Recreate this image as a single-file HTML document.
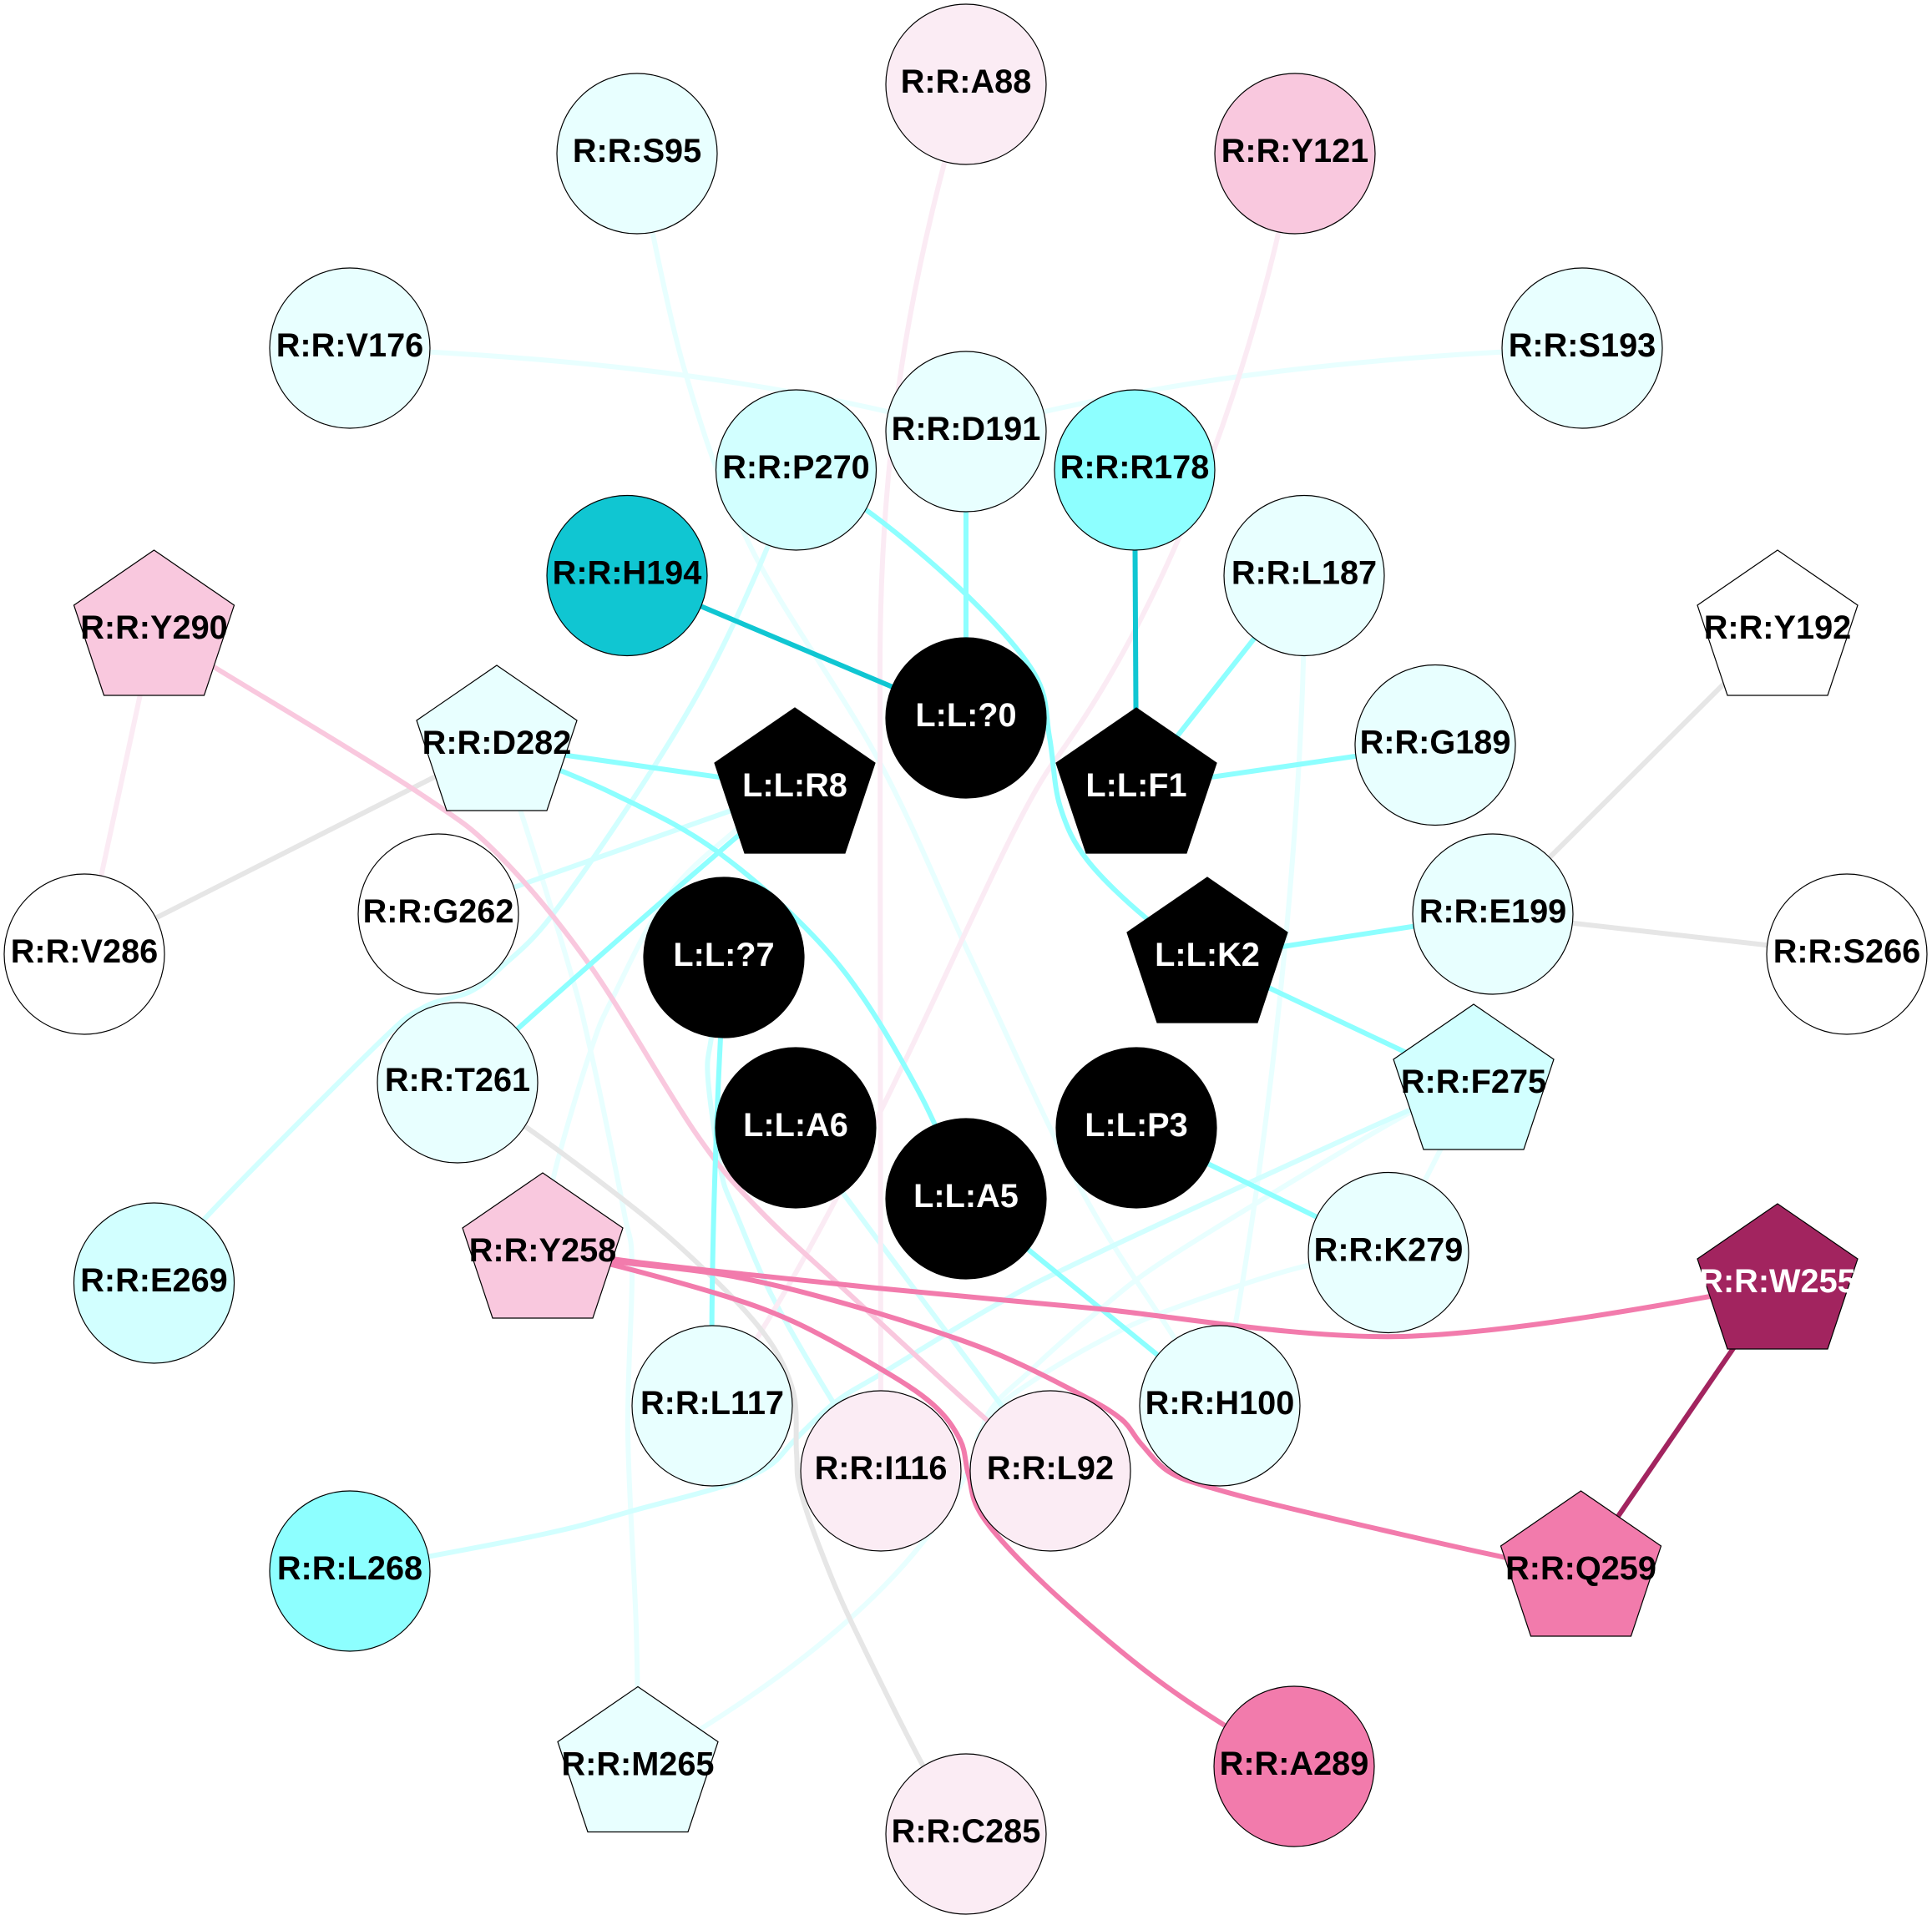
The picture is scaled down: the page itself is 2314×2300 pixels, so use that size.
<!DOCTYPE html>
<html><head><meta charset="utf-8"><title>Interaction network</title>
<style>
html,body{margin:0;padding:0;background:#fff}
svg{display:block}
text{font-family:"Liberation Sans",Arial,sans-serif;font-weight:bold;font-size:39.7px;text-anchor:middle;fill:#000}
text.w{fill:#fff}
.e path,.e line{fill:none;stroke-width:6}
.n circle,.n use{stroke:#000;stroke-width:1.2}
</style></head><body>
<svg xmlns="http://www.w3.org/2000/svg" width="2314" height="2300" viewBox="0 0 2314 2300">
<defs><polygon id="p" points="0,-96 96,-30 60,78 -60,78 -96,-30"/></defs>
<rect width="2314" height="2300" fill="#fff"/>
<g class="e">
<g stroke="#e8ffff">
<path d="M763 184C763 184 796 361 819 440S861 579 900 657S1008 828 1052 910S1123 1063 1164 1150S1256 1353 1297 1429S1381 1562 1408 1605S1461 1684 1461 1684"/>
<path d="M419 417C620 425 900 445 1157 517"/>
<path d="M1895 417C1694 425 1414 445 1157 517"/>
<path d="M595 893C595 893 608 925 623 970S669 1115 683 1163S696 1209 707 1257S739 1407 747 1450S756 1472.500 757 1517S751 1645 752 1717S760 1883.500 762 1950S764 2116 764 2116"/>
<path d="M952 944C952 944 908 971.500 883 993S825 1039 800 1073S748.500 1166 733 1197S719 1224.500 707 1260S672.500 1370 663 1410S650 1501 650 1501"/>
<path d="M1562 689C1565 950 1520 1400 1461 1684"/>
<path d="M1765 1299C1765 1299 1730 1311 1688 1333S1473 1460 1410 1500S1339.500 1551 1310 1575S1255 1622 1233 1643S1194 1673 1180 1700C1150 1840 1000 1970 841 2070L764 2116"/>
<path d="M1663 1500C1663 1500 1595 1508 1550 1520S1432 1557.500 1393 1572S1344 1593 1317 1607S1256 1641.500 1233 1657S1186 1686 1170 1725"/>
<line x1="1765" y1="1299" x2="1663" y2="1500"/>
</g>
<g stroke="#d2ffff">
<line x1="525" y1="1095" x2="952" y2="944"/>
<path d="M953 563C953 563 936 615 919 656S875 758 849 807S794.500 901.500 763 950S687 1063 660 1098S616 1144 600 1159S578.500 1180 563 1188S526 1196 507 1207S493 1211 450 1253S291 1411 247 1458S184 1537 184 1537"/>
<path d="M1765 1299C1765 1299 1730 1312 1688 1330S1399 1461 1317 1500S1236 1539 1193 1563S1092 1623.500 1060 1643S1018 1666 1000 1680S963 1714 950 1727S934 1748 920 1757S894 1771 867 1780S793 1800 757 1810S706 1826 650 1838S419 1882 419 1882"/>
<path d="M869 1148C869 1148 855.500 1219 852 1243S846 1267 848 1293S858 1374 863 1400S869 1424 880 1450S907 1519 927 1557S977 1646 998 1680S1055 1762 1055 1762"/>
<path d="M953 1352C1020 1445 1130 1590 1258 1762"/>
</g>
<g stroke="#fbebf4">
<path d="M1157 101C1100 300 1054 500 1054 800L1055 1762"/>
<path d="M1551 184C1525 330 1440 670 1262 913C1190 1010 1040 1420 853 1684"/>
<line x1="184.500" y1="755" x2="101" y2="1143"/>
</g>
<g stroke="#e6e6e6">
<line x1="101" y1="1143" x2="595" y2="893"/>
<line x1="2129" y1="755" x2="1788" y2="1095"/>
<line x1="1788" y1="1095" x2="2212" y2="1143"/>
<path d="M548 1297C548 1297 594 1324.500 630 1350S726 1420.500 763 1450S824 1502 850 1527S900 1577 917 1600S944 1644 950 1667S952.500 1721 954 1740S953 1763.500 958 1783S972 1829 983 1857S1002 1906.500 1023 1950S1085 2077 1107 2118S1157 2197 1157 2197"/>
</g>
<g stroke="#f9c8de">
<path d="M184.500 755C184.500 755 205 767.500 258 800S445 912 502 950S566 992.500 600 1027S668 1102 707 1157S799 1308 833 1357S879 1418 910 1450S971.500 1508 1017 1550S1143 1667 1183 1702S1258 1762 1258 1762"/>
</g>
<g stroke="#8dffff">
<line x1="1157" y1="517" x2="1157" y2="860"/>
<line x1="1562" y1="689" x2="1361" y2="944"/>
<line x1="1719" y1="892" x2="1361" y2="944"/>
<line x1="595" y1="893" x2="953" y2="944"/>
<line x1="1445" y1="1148" x2="1788" y2="1095"/>
<line x1="1445" y1="1148" x2="1765" y2="1299"/>
<line x1="1361" y1="1352" x2="1663" y2="1500"/>
<line x1="1157" y1="1436" x2="1461" y2="1684"/>
<path d="M953 563C953 563 1009 590 1043 615S1124 680 1157 712S1222 778 1239 807S1252 856 1257 883S1262 942 1270 967S1285 1008 1302 1030S1349 1080 1373 1100S1445 1148 1445 1148"/>
<path d="M595 893C595 893 688 928 733 950S818.500 990 863 1023S960.500 1103 1000 1150S1074 1259 1100 1307S1157 1436 1157 1436"/>
<path d="M952 944C860 1020 700 1160 548 1297"/>
<path d="M869 1148C862 1230 850 1500 853 1684"/>
</g>
<g stroke="#10c6d2">
<line x1="751" y1="689" x2="1157" y2="860"/>
<line x1="1359" y1="563" x2="1361" y2="944"/>
</g>
<g stroke="#f27bac">
<path d="M650 1501C650 1501 700 1503 733 1508S797 1516 850 1522S972 1535 1050 1543S1234 1560 1317 1568C1400 1576 1560 1604 1680 1601C1800 1597 1960 1570 2129 1538"/>
<path d="M650 1501C650 1501 700 1507 733 1511S836 1521 883 1530S972.500 1550.500 1017 1563S1114.500 1592.500 1150 1605S1204.500 1626 1230 1638S1284 1665 1303 1675S1332 1691 1343 1700S1357.500 1719.500 1367 1730S1386 1754 1400 1763S1425 1774.500 1450 1782S1492 1794 1550 1808S1742 1853 1799 1865S1893 1882 1893 1882"/>
<path d="M650 1501C650 1501 701 1507 733 1515S824 1539 860 1550S918 1568.500 950 1583S1022 1620.500 1050 1637S1100 1667 1117 1682S1143 1711 1150 1725S1155.500 1752 1160 1767S1162 1795 1177 1817S1218 1866.500 1250 1897S1334 1972 1370 2000S1437 2048 1467 2067S1550 2116 1550 2116"/>
</g>
<line x1="2129" y1="1538" x2="1893" y2="1882" stroke="#a2245f"/>
</g>
<g class="n">
<circle cx="1157" cy="101" r="96" fill="#fbecf4"/><text x="1157" y="111">R:R:A88</text>
<circle cx="763" cy="184" r="96" fill="#e8ffff"/><text x="763" y="194">R:R:S95</text>
<circle cx="1551" cy="184" r="96" fill="#f9c8de"/><text x="1551" y="194">R:R:Y121</text>
<circle cx="419" cy="417" r="96" fill="#e8ffff"/><text x="419" y="427">R:R:V176</text>
<circle cx="1895" cy="417" r="96" fill="#e8ffff"/><text x="1895" y="427">R:R:S193</text>
<circle cx="1157" cy="517" r="96" fill="#e8ffff"/><text x="1157" y="527">R:R:D191</text>
<circle cx="953.500" cy="563" r="96" fill="#d2ffff"/><text x="953.500" y="573">R:R:P270</text>
<circle cx="1359" cy="563" r="96" fill="#8dffff"/><text x="1359" y="573">R:R:R178</text>
<circle cx="751" cy="689.500" r="96" fill="#10c6d2"/><text x="751" y="699.500">R:R:H194</text>
<circle cx="1562" cy="689.500" r="96" fill="#e8ffff"/><text x="1562" y="699.500">R:R:L187</text>
<use href="#p" x="184.500" y="755" fill="#f9c8de"/><text x="184.500" y="765">R:R:Y290</text>
<use href="#p" x="2129" y="755" fill="#fff"/><text x="2129" y="765">R:R:Y192</text>
<use href="#p" x="595" y="893" fill="#e8ffff"/><text x="595" y="903">R:R:D282</text>
<circle cx="1719" cy="892.500" r="96" fill="#e8ffff"/><text x="1719" y="902.500">R:R:G189</text>
<circle cx="525" cy="1095" r="96" fill="#fff"/><text x="525" y="1105">R:R:G262</text>
<circle cx="1788" cy="1095" r="96" fill="#e8ffff"/><text x="1788" y="1105">R:R:E199</text>
<circle cx="101" cy="1143" r="96" fill="#fff"/><text x="101" y="1153">R:R:V286</text>
<circle cx="2212" cy="1143" r="96" fill="#fff"/><text x="2212" y="1153">R:R:S266</text>
<circle cx="548" cy="1297" r="96" fill="#e8ffff"/><text x="548" y="1307">R:R:T261</text>
<use href="#p" x="1765" y="1299" fill="#d2ffff"/><text x="1765" y="1309">R:R:F275</text>
<circle cx="1663" cy="1500.500" r="96" fill="#e8ffff"/><text x="1663" y="1510.500">R:R:K279</text>
<use href="#p" x="650" y="1501" fill="#f9c8de"/><text x="650" y="1511">R:R:Y258</text>
<use href="#p" x="2129" y="1538" fill="#a2245f"/><text class="w" x="2129" y="1548">R:R:W255</text>
<circle cx="184.500" cy="1537" r="96" fill="#d2ffff"/><text x="184.500" y="1547">R:R:E269</text>
<circle cx="853" cy="1684" r="96" fill="#e8ffff"/><text x="853" y="1694">R:R:L117</text>
<circle cx="1461" cy="1684" r="96" fill="#e8ffff"/><text x="1461" y="1694">R:R:H100</text>
<circle cx="1055" cy="1762" r="96" fill="#fbecf4"/><text x="1055" y="1772">R:R:I116</text>
<circle cx="1258" cy="1762" r="96" fill="#fbecf4"/><text x="1258" y="1772">R:R:L92</text>
<use href="#p" x="1893.500" y="1882" fill="#f27bac"/><text x="1893.500" y="1892">R:R:Q259</text>
<circle cx="419" cy="1882" r="96" fill="#8dffff"/><text x="419" y="1892">R:R:L268</text>
<use href="#p" x="764" y="2116.500" fill="#e8ffff"/><text x="764" y="2126.500">R:R:M265</text>
<circle cx="1550" cy="2116" r="96" fill="#f27bac"/><text x="1550" y="2126">R:R:A289</text>
<circle cx="1157" cy="2197" r="96" fill="#fbecf4"/><text x="1157" y="2207">R:R:C285</text>
<circle cx="1157" cy="860" r="96" fill="#000"/><text class="w" x="1157" y="870">L:L:?0</text>
<use href="#p" x="1361" y="944" fill="#000"/><text class="w" x="1361" y="954">L:L:F1</text>
<use href="#p" x="1446" y="1147" fill="#000"/><text class="w" x="1446" y="1157">L:L:K2</text>
<circle cx="1361" cy="1351" r="96" fill="#000"/><text class="w" x="1361" y="1361">L:L:P3</text>
<circle cx="1157" cy="1436" r="96" fill="#000"/><text class="w" x="1157" y="1446">L:L:A5</text>
<circle cx="953" cy="1351" r="96" fill="#000"/><text class="w" x="953" y="1361">L:L:A6</text>
<circle cx="867" cy="1147" r="96" fill="#000"/><text class="w" x="867" y="1157">L:L:?7</text>
<use href="#p" x="952" y="944" fill="#000"/><text class="w" x="952" y="954">L:L:R8</text>
</g>
</svg>
</body></html>
